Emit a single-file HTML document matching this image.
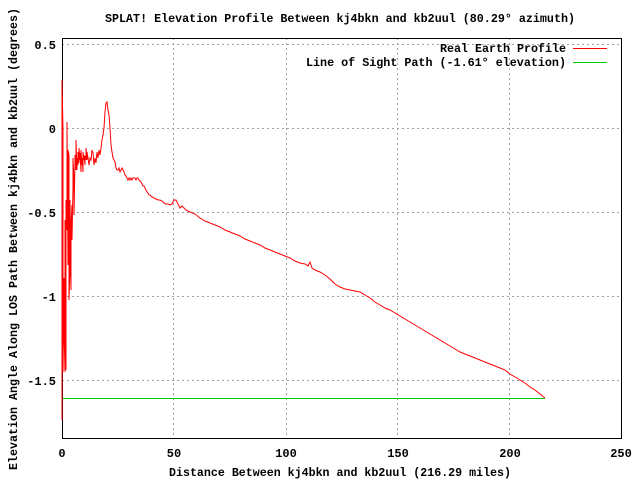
<!DOCTYPE html>
<html><head><style>
body{margin:0;background:#fff}
svg{display:block}
text{font-family:"Liberation Mono",monospace;font-size:12px;font-weight:bold;fill:#000}
</style></head><body>
<svg width="640" height="480" viewBox="0 0 640 480" xmlns="http://www.w3.org/2000/svg">
<rect width="640" height="480" fill="#fff"/>
<g stroke="#a0a0a0" stroke-width="1" stroke-dasharray="2,3">
<line x1="62" y1="44.5" x2="621" y2="44.5"/>
<line x1="62" y1="128.5" x2="621" y2="128.5"/>
<line x1="62" y1="212.5" x2="621" y2="212.5"/>
<line x1="62" y1="296.5" x2="621" y2="296.5"/>
<line x1="62" y1="380.5" x2="621" y2="380.5"/>
<line x1="173.5" y1="38" x2="173.5" y2="438"/>
<line x1="286.5" y1="38" x2="286.5" y2="438"/>
<line x1="397.5" y1="38" x2="397.5" y2="438"/>
<line x1="509.5" y1="38" x2="509.5" y2="438"/>
</g>
<rect x="62.5" y="38.5" width="559" height="400" fill="none" stroke="#000" stroke-width="1"/>
<g font-size="12">
<text x="56" y="49" text-anchor="end">0.5</text>
<text x="56" y="133" text-anchor="end">0</text>
<text x="56" y="217" text-anchor="end">-0.5</text>
<text x="56" y="301" text-anchor="end">-1</text>
<text x="56" y="385" text-anchor="end">-1.5</text>
<text x="62" y="457" text-anchor="middle">0</text>
<text x="174" y="457" text-anchor="middle">50</text>
<text x="286" y="457" text-anchor="middle">100</text>
<text x="398" y="457" text-anchor="middle">150</text>
<text x="510" y="457" text-anchor="middle">200</text>
<text x="621" y="457" text-anchor="middle">250</text>
<text x="169" y="476" textLength="342" lengthAdjust="spacingAndGlyphs">Distance Between kj4bkn and kb2uul (216.29 miles)</text>
<text x="105" y="22" textLength="470" lengthAdjust="spacingAndGlyphs">SPLAT! Elevation Profile Between kj4bkn and kb2uul (80.29° azimuth)</text>
<text transform="translate(17,470) rotate(-90)" textLength="462" lengthAdjust="spacingAndGlyphs">Elevation Angle Along LOS Path Between kj4bkn and kb2uul (degrees)</text>
<text x="440" y="52" textLength="126" lengthAdjust="spacingAndGlyphs">Real Earth Profile</text>
<text x="306" y="66" textLength="260" lengthAdjust="spacingAndGlyphs">Line of Sight Path (-1.61° elevation)</text>
</g>
<line x1="573" y1="48.5" x2="607" y2="48.5" stroke="#f00"/>
<line x1="573" y1="62.5" x2="607" y2="62.5" stroke="#0c0"/>
<line x1="62" y1="398.5" x2="545" y2="398.5" stroke="#0c0"/>
<polyline fill="none" stroke="#f00" stroke-width="1" points="
62,420 62,80 63,130 63,372 64,278 64,330 65,372 65,220 66,370 66,200 67,230 67,122 68,265 68,150 69,155 69,300 70,270 70,200 71,290 71,225 72,205 72,240 73,188 73,158 74,180 74,215 75,162 75,155 76,170 76,140 77,170 77,158 78,165 78,152 79,163 79,148 80,160 80,153 81,172 81,150 82,165 82,158 83,172 83,152 84,160 84,155 85,165 85,156 86,160 86,148 87,160 87,152 88,158 89,165 90,158 91,160 92,150 93,153 94,165 95,158 96,163 97,152 98,158 99,150 100,155 101,148 102,140 103,135 104,128 105,112 106,103 107,102 108,110 109,115 110,128 111,145 112,152 113,158 114,160 115,162 116,168 117,170 118,170 119,168 120,172 121,170 122,168 123,170 124,172 125,175 126,176 127,178 128,180 129,178 130,180 131,178 132,180 133,178 134,178 135,178 136,180 137,178 138,178 139,180 140,181 141,182 142,184 143,186 144,186 145,188 146,190 147,192 148,193 149,195 150,195 152,197 154,198 156,199 158,200 160,200 162,201 164,203 166,204 168,204 170,205 172,204 174,200 176,200 178,204 180,208 182,206 184,208 186,210 188,211 190,212 195,214 200,218 205,221 210,223 215,225 220,227 225,230 230,232 235,234 240,236 245,239 250,241 255,243 260,245 265,248 270,250 275,252 280,254 285,256 290,258 295,261 300,263 305,264 308,266 310,262 312,268 315,270 320,272 325,275 330,279 335,284 340,287 345,289 350,290 355,291 360,292 365,295 370,298 375,302 380,305 385,308 390,310 395,313 400,316 405,319 410,322 415,325 420,328 425,331 430,334 435,337 440,340 445,343 450,346 455,349 460,352 465,354 470,356 475,358 480,360 485,362 490,364 495,366 500,368 505,370 510,374 515,377 520,380 525,383 530,387 535,390 540,394 545,398"/>
</svg>
</body></html>
